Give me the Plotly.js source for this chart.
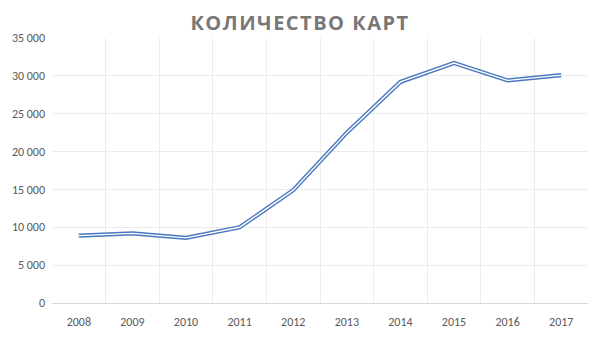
<!DOCTYPE html>
<html><head><meta charset="utf-8">
<script src="https://cdn.plot.ly/plotly-3.0.1.min.js"></script>
<style>html,body{margin:0;padding:0;background:#fff}.gtitle{letter-spacing:1.5px}</style>
</head><body><div id="chart" style="width:600px;height:351px"></div>
<script>
const years = ["2008","2009","2010","2011","2012","2013","2014","2015","2016","2017"];
const cards = [8900, 9200, 8600, 10000, 14900, 22500, 29200, 31700, 29400, 30100];
const yTicks = [0, 5000, 10000, 15000, 20000, 25000, 30000, 35000];

const outer = {x: years, y: cards, type: "scatter", mode: "lines",
  line: {color: "#4a78c0", width: 4.2}, hoverinfo: "skip", showlegend: false};
const inner = {x: years, y: cards, type: "scatter", mode: "lines",
  line: {color: "#ffffff", width: 1.4}, hoverinfo: "skip", showlegend: false};

const layout = {
  width: 600, height: 351,
  margin: {l: 52, r: 12, t: 38, b: 48},
  paper_bgcolor: "#fff", plot_bgcolor: "#fff",
  separators: ". ",
  title: {text: "<b>КОЛИЧЕСТВО КАРТ</b>", x: 0.5, xanchor: "center", y: 0.935, yanchor: "middle",
    font: {family: "Open Sans, sans-serif", size: 20, color: "#777777"}},
  xaxis: {type: "category", range: [-0.5, years.length - 0.5], tickson: "boundaries", showgrid: true,
    gridcolor: "#ececec", gridwidth: 1,
    showline: true, linecolor: "#d9d9d9", linewidth: 1, ticks: "", zeroline: false, ticklabelstandoff: 8,
    tickfont: {family: "Calibri, Carlito, Liberation Sans, sans-serif", size: 12, color: "#595959"}},
  yaxis: {range: [0, 35000], tickvals: yTicks, tickformat: ",d", showgrid: true, gridcolor: "#ececec",
    gridwidth: 1, zeroline: false, showline: false, ticks: "", ticklabelstandoff: 6,
    tickfont: {family: "Calibri, Carlito, Liberation Sans, sans-serif", size: 12, color: "#595959"}},
};
Plotly.newPlot("chart", [outer, inner], layout, {displayModeBar: false, staticPlot: true});
</script></body></html>
